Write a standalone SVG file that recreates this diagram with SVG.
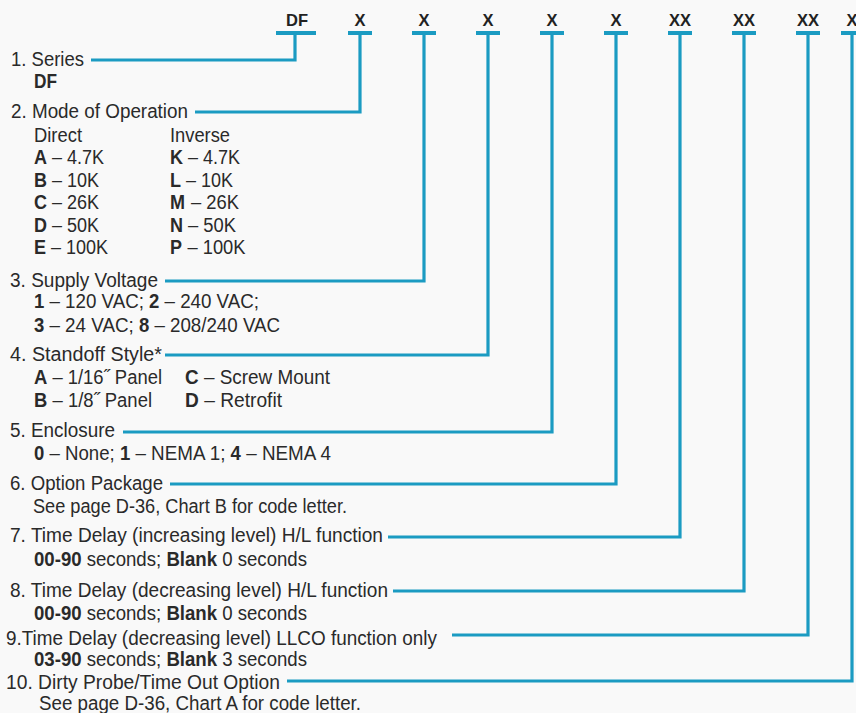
<svg xmlns="http://www.w3.org/2000/svg" width="856" height="713" viewBox="0 0 856 713">
<style>
.t{font-family:"Liberation Sans",Arial,sans-serif;font-size:20px;fill:#2a2a2a}
.b{font-weight:bold}
.code{font-family:"Liberation Sans",Arial,sans-serif;font-size:16.5px;font-weight:bold;fill:#222;text-anchor:middle}
.c{fill:none;stroke:#1b9bc2;stroke-width:3.2;stroke-linejoin:miter;stroke-linecap:butt}
.bar{fill:none;stroke:#1b9bc2;stroke-width:4}
</style>
<rect x="0" y="0" width="856" height="713" fill="#f9f9f9"/>
<g id="codes">
<text class="code" x="297" y="26">DF</text>
<text class="code" x="360" y="26">X</text>
<text class="code" x="424" y="26">X</text>
<text class="code" x="488" y="26">X</text>
<text class="code" x="552" y="26">X</text>
<text class="code" x="616" y="26">X</text>
<text class="code" x="680" y="26">XX</text>
<text class="code" x="744" y="26">XX</text>
<text class="code" x="808" y="26">XX</text>
<text class="code" x="852" y="26">X</text>
</g>
<g id="connectors">
<path class="bar" d="M276,33H316 M348,33H372 M412,33H436 M476,33H500 M540,33H564 M604,33H628 M668,33H692 M732,33H756 M796,33H820 M841,33H864"/>
<path class="c" d="M91,60H295V33"/>
<path class="c" d="M195,112H360V33"/>
<path class="c" d="M165,281H424V33"/>
<path class="c" d="M165,355H488V33"/>
<path class="c" d="M123,432H552V33"/>
<path class="c" d="M170,484H616V33"/>
<path class="c" d="M388,537H680V33"/>
<path class="c" d="M393,591H744V33"/>
<path class="c" d="M452,635H808V33"/>
<path class="c" d="M287,681H852V33"/>
</g>
<g id="item1">
<text class="t" x="11" y="66" textLength="73" lengthAdjust="spacingAndGlyphs">1. Series</text>
<text class="t b" x="34" y="88" textLength="23" lengthAdjust="spacingAndGlyphs">DF</text>
</g>
<g id="item2">
<text class="t" x="11" y="118" textLength="177" lengthAdjust="spacingAndGlyphs">2. Mode of Operation</text>
<text class="t" x="34" y="142" textLength="48" lengthAdjust="spacingAndGlyphs">Direct</text>
<text class="t" x="170" y="142" textLength="60" lengthAdjust="spacingAndGlyphs">Inverse</text>
<text class="t b" x="34" y="164" textLength="13" lengthAdjust="spacingAndGlyphs">A</text>
<text class="t" x="52" y="164" textLength="52" lengthAdjust="spacingAndGlyphs">– 4.7K</text>
<text class="t b" x="170" y="164" textLength="13" lengthAdjust="spacingAndGlyphs">K</text>
<text class="t" x="188" y="164" textLength="52" lengthAdjust="spacingAndGlyphs">– 4.7K</text>
<text class="t b" x="34" y="187" textLength="13" lengthAdjust="spacingAndGlyphs">B</text>
<text class="t" x="52" y="187" textLength="47" lengthAdjust="spacingAndGlyphs">– 10K</text>
<text class="t b" x="170" y="187" textLength="11" lengthAdjust="spacingAndGlyphs">L</text>
<text class="t" x="186" y="187" textLength="47" lengthAdjust="spacingAndGlyphs">– 10K</text>
<text class="t b" x="34" y="209" textLength="13" lengthAdjust="spacingAndGlyphs">C</text>
<text class="t" x="52" y="209" textLength="47" lengthAdjust="spacingAndGlyphs">– 26K</text>
<text class="t b" x="170" y="209" textLength="15" lengthAdjust="spacingAndGlyphs">M</text>
<text class="t" x="191" y="209" textLength="48" lengthAdjust="spacingAndGlyphs">– 26K</text>
<text class="t b" x="34" y="232" textLength="13" lengthAdjust="spacingAndGlyphs">D</text>
<text class="t" x="52" y="232" textLength="47" lengthAdjust="spacingAndGlyphs">– 50K</text>
<text class="t b" x="170" y="232" textLength="13" lengthAdjust="spacingAndGlyphs">N</text>
<text class="t" x="188" y="232" textLength="48" lengthAdjust="spacingAndGlyphs">– 50K</text>
<text class="t b" x="34" y="254" textLength="12" lengthAdjust="spacingAndGlyphs">E</text>
<text class="t" x="51" y="254" textLength="57" lengthAdjust="spacingAndGlyphs">– 100K</text>
<text class="t b" x="170" y="254" textLength="12" lengthAdjust="spacingAndGlyphs">P</text>
<text class="t" x="187.5" y="254" textLength="58" lengthAdjust="spacingAndGlyphs">– 100K</text>
</g>
<g id="item3">
<text class="t" x="10" y="287" textLength="148" lengthAdjust="spacingAndGlyphs">3. Supply Voltage</text>
<text class="t b" x="34" y="308" textLength="10.3" lengthAdjust="spacingAndGlyphs">1</text>
<text class="t" x="49.4" y="308" textLength="94.5" lengthAdjust="spacingAndGlyphs">– 120 VAC;</text>
<text class="t b" x="149.1" y="308" textLength="10.3" lengthAdjust="spacingAndGlyphs">2</text>
<text class="t" x="164.5" y="308" textLength="94.5" lengthAdjust="spacingAndGlyphs">– 240 VAC;</text>
<text class="t b" x="34" y="332" textLength="10.3" lengthAdjust="spacingAndGlyphs">3</text>
<text class="t" x="49.4" y="332" textLength="84.4" lengthAdjust="spacingAndGlyphs">– 24 VAC;</text>
<text class="t b" x="139" y="332" textLength="10.3" lengthAdjust="spacingAndGlyphs">8</text>
<text class="t" x="154.4" y="332" textLength="125.6" lengthAdjust="spacingAndGlyphs">– 208/240 VAC</text>
</g>
<g id="item4">
<text class="t" x="10" y="361" textLength="152" lengthAdjust="spacingAndGlyphs">4. Standoff Style*</text>
<text class="t b" x="34" y="384" textLength="13.3" lengthAdjust="spacingAndGlyphs">A</text>
<text class="t" x="52.4" y="384" textLength="109.6" lengthAdjust="spacingAndGlyphs">– 1/16˝ Panel</text>
<text class="t b" x="185" y="384" textLength="13.6" lengthAdjust="spacingAndGlyphs">C</text>
<text class="t" x="203.9" y="384" textLength="126.1" lengthAdjust="spacingAndGlyphs">– Screw Mount</text>
<text class="t b" x="34" y="407" textLength="13.3" lengthAdjust="spacingAndGlyphs">B</text>
<text class="t" x="52.5" y="407" textLength="99.5" lengthAdjust="spacingAndGlyphs">– 1/8˝ Panel</text>
<text class="t b" x="185" y="407" textLength="13.8" lengthAdjust="spacingAndGlyphs">D</text>
<text class="t" x="204.2" y="407" textLength="77.8" lengthAdjust="spacingAndGlyphs">– Retrofit</text>
</g>
<g id="item5">
<text class="t" x="10" y="437" textLength="105" lengthAdjust="spacingAndGlyphs">5. Enclosure</text>
<text class="t b" x="34" y="460" textLength="10.3" lengthAdjust="spacingAndGlyphs">0</text>
<text class="t" x="49.5" y="460" textLength="65.2" lengthAdjust="spacingAndGlyphs">– None;</text>
<text class="t b" x="119.9" y="460" textLength="10.3" lengthAdjust="spacingAndGlyphs">1</text>
<text class="t" x="135.4" y="460" textLength="90" lengthAdjust="spacingAndGlyphs">– NEMA 1;</text>
<text class="t b" x="230.6" y="460" textLength="10.3" lengthAdjust="spacingAndGlyphs">4</text>
<text class="t" x="246.2" y="460" textLength="84.8" lengthAdjust="spacingAndGlyphs">– NEMA 4</text>
</g>
<g id="item6">
<text class="t" x="10" y="490" textLength="153" lengthAdjust="spacingAndGlyphs">6. Option Package</text>
<text class="t" x="33" y="513" textLength="314" lengthAdjust="spacingAndGlyphs">See page D-36, Chart B for code letter.</text>
</g>
<g id="item7">
<text class="t" x="10" y="542" textLength="373" lengthAdjust="spacingAndGlyphs">7. Time Delay (increasing level) H/L function</text>
<text class="t b" x="34" y="566" textLength="47.6" lengthAdjust="spacingAndGlyphs">00-90</text>
<text class="t" x="86.7" y="566" textLength="74.5" lengthAdjust="spacingAndGlyphs">seconds;</text>
<text class="t b" x="166.4" y="566" textLength="50.7" lengthAdjust="spacingAndGlyphs">Blank</text>
<text class="t" x="222.2" y="566" textLength="84.8" lengthAdjust="spacingAndGlyphs">0 seconds</text>
</g>
<g id="item8">
<text class="t" x="10" y="597" textLength="378" lengthAdjust="spacingAndGlyphs">8. Time Delay (decreasing level) H/L function</text>
<text class="t b" x="34" y="620" textLength="47.6" lengthAdjust="spacingAndGlyphs">00-90</text>
<text class="t" x="86.7" y="620" textLength="74.5" lengthAdjust="spacingAndGlyphs">seconds;</text>
<text class="t b" x="166.4" y="620" textLength="50.7" lengthAdjust="spacingAndGlyphs">Blank</text>
<text class="t" x="222.2" y="620" textLength="84.8" lengthAdjust="spacingAndGlyphs">0 seconds</text>
</g>
<g id="item9">
<text class="t" x="6" y="645" textLength="431" lengthAdjust="spacingAndGlyphs">9.Time Delay (decreasing level) LLCO function only</text>
<text class="t b" x="34" y="666" textLength="47.6" lengthAdjust="spacingAndGlyphs">03-90</text>
<text class="t" x="86.7" y="666" textLength="74.5" lengthAdjust="spacingAndGlyphs">seconds;</text>
<text class="t b" x="166.4" y="666" textLength="50.7" lengthAdjust="spacingAndGlyphs">Blank</text>
<text class="t" x="222.2" y="666" textLength="84.8" lengthAdjust="spacingAndGlyphs">3 seconds</text>
</g>
<g id="item10">
<text class="t" x="6" y="689" textLength="274" lengthAdjust="spacingAndGlyphs">10. Dirty Probe/Time Out Option</text>
<text class="t" x="39" y="710" textLength="322" lengthAdjust="spacingAndGlyphs">See page D-36, Chart A for code letter.</text>
</g>
</svg>
